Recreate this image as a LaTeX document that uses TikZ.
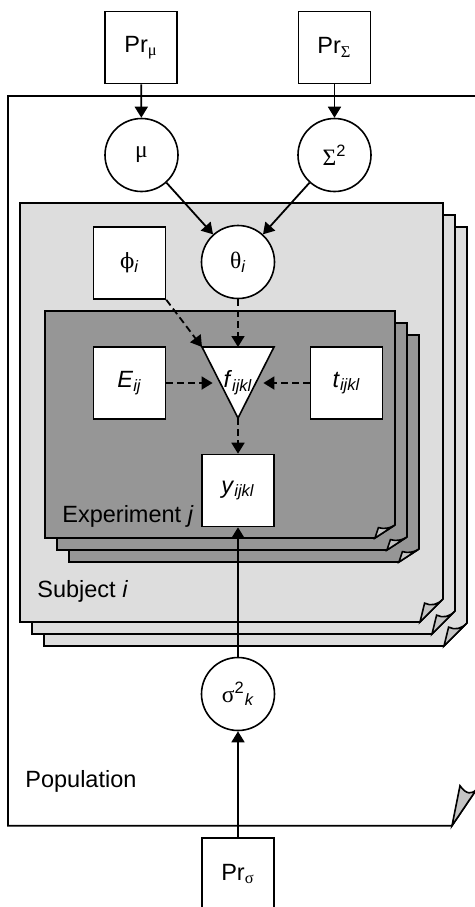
\documentclass[tikz,border=0pt]{standalone}
\usepackage{fontspec}
\setmainfont{Liberation Sans}
\newfontfamily\grk{Liberation Serif}
\newfontfamily\grkalt{DejaVu Serif}
\usetikzlibrary{arrows.meta,calc}

\definecolor{subjgray}{HTML}{DDDDDD}
\definecolor{expgray}{HTML}{969696}
\definecolor{curlgray}{HTML}{C4C4C4}

\newcommand\lbl{\fontsize{11.75}{14}\selectfont}

% A plate drawn as a sheet of paper with its lower right corner curled.
% #1,#2 top left; #3,#4 bottom right; #5,#6 size of the cut corner;
% #7 fill; #8,#9 position of the curl tip as fractions of the cut.
\newcommand\papersheet[9]{%
  \pgfmathsetmacro\shAx{#3-#5}%
  \pgfmathsetmacro\shAy{#4}%
  \pgfmathsetmacro\shBx{#3}%
  \pgfmathsetmacro\shBy{#4-#6}%
  \pgfmathsetmacro\shCx{#3-#5+#8*#5}%
  \pgfmathsetmacro\shCy{#4-#9*#6}%
  \pgfmathsetmacro\shPx{\shCx+0.35*(\shBx-\shCx)}%
  \pgfmathsetmacro\shPy{\shCy+0.35*(\shBy-\shCy)+0.2*#6}%
  \pgfmathsetmacro\shQx{\shCx+0.7*(\shBx-\shCx)}%
  \pgfmathsetmacro\shQy{\shCy+0.7*(\shBy-\shCy)+0.2*#6}%
  \filldraw[sheetline,fill=#7] (#1,#2) -- (#3,#2) -- (\shBx,\shBy) -- (\shAx,\shAy) -- (#1,#4) -- cycle;
  \filldraw[sheetline,fill=curlgray] (\shAx,\shAy) -- (\shCx,\shCy)
     .. controls (\shPx,\shPy) and (\shQx,\shQy) .. (\shBx,\shBy) -- cycle;
}

\tikzset{
  sheetline/.style={draw=black, line width=0.8pt, line join=miter},
  box/.style={draw, line width=0.8pt, fill=white, minimum width=36pt,
    minimum height=36pt, inner sep=0pt, font=\lbl},
  varc/.style={circle, draw, line width=0.8pt, fill=white, minimum size=36.5pt,
    inner sep=0pt, font=\lbl},
  arr/.style={line width=0.9pt, -{Triangle[length=5.5pt,width=6.5pt]}},
  darr/.style={arr, dash pattern=on 3.5pt off 2pt},
  platelbl/.style={anchor=base west, font=\lbl, inner sep=0pt},
}

\begin{document}
\begin{tikzpicture}[x=0.5pt, y=-0.5pt]
\useasboundingbox (0,0) rectangle (475,907);
\clip (0,0) rectangle (475,907);

% population plate
\papersheet{8}{96}{477}{825.7}{25}{37}{white}{0.32}{1.08}

% subject plates
\papersheet{44}{227}{467}{646}{23}{23}{subjgray}{0.2}{0.82}
\papersheet{32}{215}{455}{634}{23}{23}{subjgray}{0.2}{0.82}
\papersheet{20}{203}{443}{622}{23}{23}{subjgray}{0.2}{0.82}

% experiment plates
\papersheet{69}{335}{419}{562}{20}{13}{expgray}{0.17}{0.8}
\papersheet{57}{323}{407}{550}{20}{13}{expgray}{0.17}{0.8}
\papersheet{45}{311}{395}{538}{20}{13}{expgray}{0.17}{0.8}

% plate labels
\node[platelbl] (poplbl) at (25,787) {Population};
\node[platelbl] (subjlbl) at (37,597) {Subject \textit{i}};
\node[platelbl] (explbl) at (62,522) {Experiment \textit{j}};

% priors and parameters
\node[box] (prmu) at (141,47.5) {Pr\textsubscript{\grk μ}};
\node[box] (prsig) at (334.5,47.5) {Pr\textsubscript{\grk Σ}};
\node[varc] (mu) at (141.5,155) {\grk μ};
\node[varc] (Sig) at (334.5,155) {{\grk Σ}\textsuperscript{2}};
\node[varc] (theta) at (238,262) {{\grk θ}\textsubscript{\itshape i}};
\node[box] (phi) at (129.5,263) {{\grkalt\fontsize{10.5}{12}\selectfont ϕ}\textsubscript{\itshape i}};
\node[box] (E) at (129.5,383) {\textit{E}\textsubscript{\itshape ij}};
\node[box] (t) at (346.5,383) {\textit{t}\textsubscript{\itshape ijkl}};

% model function
\coordinate (ftl) at (202,347);
\coordinate (ftr) at (274,347);
\coordinate (fb) at (238,418);
\coordinate (ftop) at (238,347);
\filldraw[sheetline, fill=white] (ftl) -- (ftr) -- (fb) -- cycle;
\node[inner sep=0pt, minimum width=25pt, minimum height=12pt, font=\lbl] (f) at (238,383)
  {\textit{f}\textsubscript{\itshape ijkl}};

\node[box] (y) at (238,490.5) {\textit{y}\textsubscript{\itshape ijkl}};
\node[varc] (sig2) at (238,694) {{\grk σ}\textsuperscript{2}\textsubscript{\itshape k}};
\node[box] (prs) at (238,874) {Pr\textsubscript{\grk σ}};

% dependencies
\draw[arr] (prmu) -- (mu);
\draw[arr] (prsig) -- (Sig);
\draw[arr] (mu) -- (theta);
\draw[arr] (Sig) -- (theta);
\draw[darr] (phi.south east) -- (ftl);
\draw[darr] (theta) -- (ftop);
\draw[darr] (E) -- (f);
\draw[darr] (t) -- (f);
\draw[darr] (fb) -- (y);
\draw[arr] (sig2) -- (y);
\draw[arr] (prs) -- (sig2);
\end{tikzpicture}
\end{document}
